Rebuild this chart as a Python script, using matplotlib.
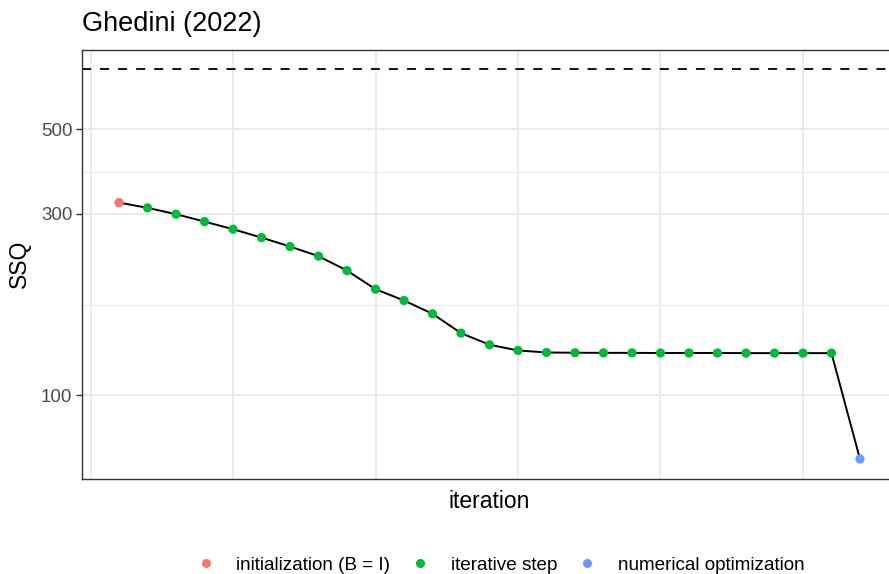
import numpy as np
import matplotlib.pyplot as plt
from matplotlib.lines import Line2D

plt.rcParams['font.family'] = ['Liberation Sans', 'DejaVu Sans']

# данные
iteration = list(range(1, 28))
ssq = [321, 311, 299.3, 286.2, 273.3, 259.8, 246.1, 232.2, 212.8, 190.2,
       177.6, 163.9, 145.8, 135.9, 131.3, 129.7, 129.5, 129.4, 129.4, 129.3,
       129.3, 129.3, 129.2, 129.2, 129.2, 129.2, 68.1]
step_type = (['initialization (B = I)'] + ['iterative step'] * 25
             + ['numerical optimization'])
ref_line = 718

type_names = ['initialization (B = I)', 'iterative step', 'numerical optimization']
type_colors = ['#F8766D', '#00BA38', '#619CFF']

fig = plt.figure(figsize=(8.89, 5.74), dpi=100)
ax = fig.add_axes([82 / 889, 1 - 478.5 / 574, 815 / 889, 428.5 / 574])

ax.set_yscale('log')

# сетка как в theme_bw
for v in [0, 5, 10, 15, 20, 25]:
    ax.axvline(v, color='#EBEBEB', lw=1.4, zorder=0)
for v in [100, 300, 500]:
    ax.axhline(v, color='#EBEBEB', lw=1.4, zorder=0)
for v in [np.sqrt(100 * 300), np.sqrt(300 * 500)]:
    ax.axhline(v, color='#EBEBEB', lw=0.8, zorder=0)

ax.axhline(ref_line, color='black', lw=1.3, ls=(0, (5, 5)), zorder=1)
ax.plot(iteration, ssq, color='black', lw=1.4, zorder=2)
colors = [type_colors[type_names.index(t)] for t in step_type]
ax.scatter(iteration, ssq, c=colors, s=44, zorder=3, linewidths=0)

# пределы с расширением 5%
lo = np.log10(min(ssq))
hi = np.log10(max(max(ssq), ref_line))
pad = (hi - lo) * 0.05
ax.set_ylim(10 ** (lo - pad), 10 ** (hi + pad))
ax.set_xlim(1 - 26 * 0.05, 27 + 26 * 0.05)

ax.set_yticks([100, 300, 500])
ax.set_yticklabels(['100', '300', '500'])
ax.yaxis.set_minor_locator(plt.NullLocator())
ax.set_xticks([])
ax.tick_params(axis='y', colors='#333333', labelcolor='#4D4D4D',
               labelsize=13.5, length=4, width=1, pad=3)

for s in ax.spines.values():
    s.set_color('#333333')
    s.set_linewidth(1)

ax.set_xlabel('iteration', fontsize=16.5, labelpad=8)
ax.set_ylabel('SSQ', fontsize=16.5, labelpad=7)
fig.text(82 / 889, 1 - 24 / 574, 'Ghedini (2022)', fontsize=19.5,
         ha='left', va='center')

handles = [Line2D([], [], ls='none', marker='o', markersize=6.5,
                  markerfacecolor=c, markeredgewidth=0)
           for c in type_colors]
fig.legend(handles, type_names, loc='center', ncol=3,
           bbox_to_anchor=(498 / 889, 1 - 565 / 574), frameon=False,
           fontsize=13.6, handletextpad=0.85, columnspacing=0.85,
           handlelength=1.5, borderpad=0)

fig.savefig('out.png', dpi=100)
